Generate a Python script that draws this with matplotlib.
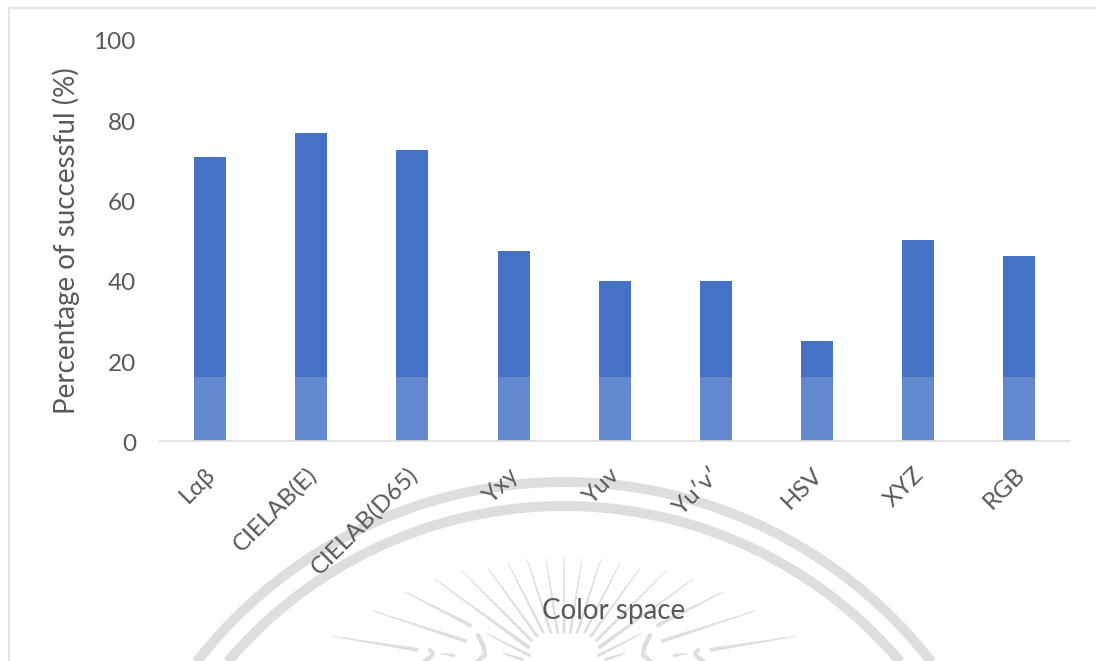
import numpy as np
import matplotlib
matplotlib.use("Agg")
import matplotlib.pyplot as plt
from matplotlib.patches import Rectangle
from matplotlib.lines import Line2D
from matplotlib.transforms import ScaledTranslation

plt.rcParams["font.family"] = ["Lato", "DejaVu Sans"]

categories = ["Lαβ", "CIELAB(E)", "CIELAB(D65)", "Yxy", "Yuv", "Yu′v′", "HSV", "XYZ", "RGB"]
success_rate = [70.5, 76.5, 72.4, 47.2, 39.8, 39.8, 24.8, 50.0, 46.0]
y_ticks = [0, 20, 40, 60, 80, 100]

W, H = 1096, 661
TEXT = "#595959"
WM = "#dedede"


def px_axes(fig, x0, y0, x1, y1):
    # axes box given in pixels from the top left corner
    return fig.add_axes([x0 / W, 1 - y1 / H, (x1 - x0) / W, (y1 - y0) / H])


def draw_ray(ax, ang, r0, r1, width):
    # spoke that narrows towards its outer end
    a = np.radians(ang)
    ux, uy = np.sin(a), -np.cos(a)
    nx, ny = -uy, ux
    px = [564 + r0 * ux - nx * width / 2, 564 + r0 * ux + nx * width / 2, 564 + r1 * ux]
    py = [673 + r0 * uy - ny * width / 2, 673 + r0 * uy + ny * width / 2, 673 + r1 * uy]
    ax.fill(px, py, color=WM, lw=0.6)


fig = plt.figure(figsize=(W / 100, H / 100), dpi=100, facecolor="white")

# seal in the page background, drawn in pixel coordinates
bg = fig.add_axes([0, 0, 1, 1], zorder=0)
bg.set_xlim(0, W)
bg.set_ylim(H, 0)
bg.axis("off")

cx, cy = 564, 947
theta = np.linspace(0, 2 * np.pi, 720)
for r in [465, 441]:
    bg.plot(cx + r * np.cos(theta), cy + r * np.sin(theta), color=WM, lw=7.2, solid_capstyle="butt")

ray_angles = np.arange(-81, 82, 9)
ray_outer = [234, 202, 179, 161, 144, 130, 125, 120, 116, 116]
ray_inner = [148, 103, 104, 43, 45, 45, 45, 42, 40, 40]
ray_outer = ray_outer + ray_outer[-2::-1]
ray_inner = ray_inner + ray_inner[-2::-1]
for ang, r0, r1 in zip(ray_angles, ray_inner, ray_outer):
    draw_ray(bg, ang, r0, r1, 3.0 if abs(ang) > 50 else 2.0)

# short inner spokes next to the wings
for sign in (-1, 1):
    draw_ray(bg, sign * 81, 111, 125, 2.5)
    draw_ray(bg, sign * 72, 43, 65, 2.5)
    draw_ray(bg, sign * 63, 38, 87, 2.5)

# wing tips rising from the bottom edge
for sign in (-1, 1):
    bg.plot(564 + sign * np.array([86, 81, 79, 84, 89]), [635, 645, 655, 659, 663],
            color=WM, lw=3.2, solid_capstyle="round")
    bg.plot(564 + sign * np.array([134, 131, 135, 142]), [650, 654, 658, 663],
            color=WM, lw=3.0, solid_capstyle="round")

# frame lines along the top and left
fig.add_artist(Line2D([9 / W, 1], [1 - 8 / H, 1 - 8 / H], color="#e4e4e4", lw=1.6))
fig.add_artist(Line2D([9 / W, 9 / W], [0, 1 - 8 / H], color="#e4e4e4", lw=1.6))

ax = px_axes(fig, 159.5, 38.7, 1070, 440.7)
ax.set_zorder(1)
ax.patch.set_alpha(0)
x = np.arange(len(categories))
ax.bar(x, success_rate, width=32 / 101.2, color="#4472c4", zorder=2)
# pale band across the lower part of the plot, over the bars
ax.add_patch(Rectangle((-0.5, 0), len(categories), 15.8, color="white", alpha=0.16, lw=0, zorder=3))

ax.set_xlim(-0.5, len(categories) - 0.5)
ax.set_ylim(0, 100)
ax.set_yticks(y_ticks)
ax.set_xticks(x)
ax.set_xticklabels(categories, rotation=45, ha="right", rotation_mode="anchor")
ax.tick_params(axis="both", length=0, colors=TEXT)
ax.tick_params(axis="y", labelsize=17.5, pad=17)
ax.tick_params(axis="x", labelsize=17.5, pad=13)
for name in ["top", "right", "left"]:
    ax.spines[name].set_visible(False)
ax.spines["bottom"].set_color("#dcdcdc")
ax.spines["bottom"].set_linewidth(1.2)

# nudge the tick labels in points
shift_x = ScaledTranslation(-4 / 72, -3.5 / 72, fig.dpi_scale_trans)
shift_y = ScaledTranslation(0, -1.5 / 72, fig.dpi_scale_trans)
for label in ax.get_xticklabels():
    label.set_transform(label.get_transform() + shift_x)
for label in ax.get_yticklabels():
    label.set_transform(label.get_transform() + shift_y)

fig.text(66 / W, 1 - 241 / H, "Percentage of successful (%)", rotation=90, color=TEXT,
         fontsize=20, ha="center", va="center")
fig.text(614 / W, 1 - 611 / H, "Color space", color=TEXT, fontsize=20, ha="center", va="center")

fig.savefig("out.png", dpi=100)
